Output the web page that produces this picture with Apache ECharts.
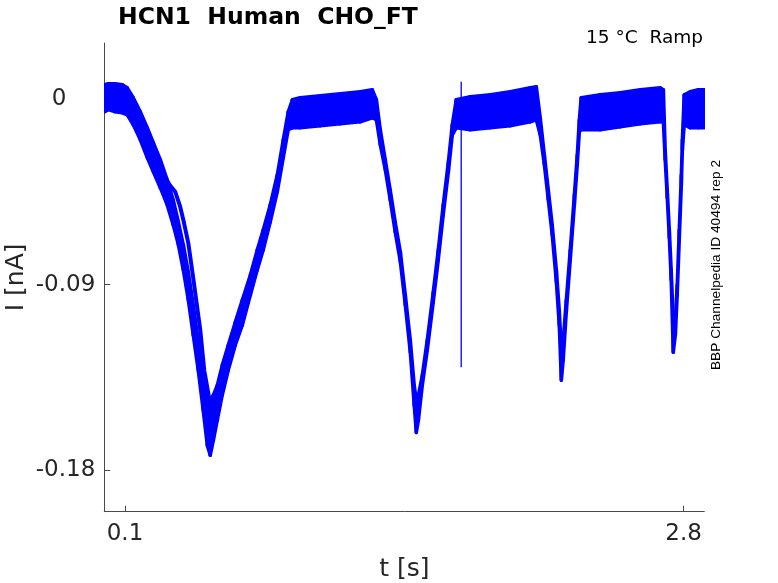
<!DOCTYPE html>
<html>
<head>
<meta charset="utf-8">
<script src="https://cdn.jsdelivr.net/npm/echarts@6/dist/echarts.min.js"></script>
<style>
html,body{margin:0;padding:0;background:#fff;}
#chart{width:778px;height:583px;}
</style>
</head>
<body>
<div id="chart"></div>
<script>
// Time axis (s) and noise-band envelope of the overlaid sweeps (nA)
const timeS = [0.002,0.019,0.053,0.087,0.111,0.140,0.174,0.208,0.237,0.271,0.304,0.333,0.358,0.382,0.406,0.430,0.454,0.478,0.498,0.512,0.527,0.546,0.570,0.599,0.633,0.667,0.706,0.739,0.768,0.802,0.836,0.865,0.889,0.909,0.947,1.044,1.141,1.237,1.295,1.315,1.334,1.358,1.382,1.406,1.431,1.455,1.479,1.498,1.508,1.518,1.537,1.561,1.590,1.614,1.638,1.663,1.682,1.701,1.769,1.866,1.962,2.059,2.088,2.107,2.127,2.146,2.165,2.185,2.199,2.209,2.218,2.233,2.252,2.272,2.286,2.296,2.305,2.397,2.494,2.591,2.687,2.702,2.711,2.721,2.731,2.740,2.750,2.760,2.769,2.779,2.789,2.794,2.803,2.832,2.871,2.900];
const upperNA = [0.0068,0.0073,0.0073,0.0068,0.0053,0.0005,-0.0063,-0.0141,-0.0213,-0.0296,-0.0393,-0.0490,-0.0597,-0.0708,-0.0839,-0.1000,-0.1169,-0.1339,-0.1436,-0.1460,-0.1436,-0.1388,-0.1291,-0.1194,-0.1082,-0.0975,-0.0854,-0.0733,-0.0636,-0.0514,-0.0369,-0.0199,-0.0063,-0.0005,0.0005,0.0015,0.0024,0.0034,0.0044,-0.0005,-0.0150,-0.0296,-0.0442,-0.0597,-0.0742,-0.0951,-0.1169,-0.1388,-0.1460,-0.1436,-0.1339,-0.1169,-0.0936,-0.0733,-0.0514,-0.0306,-0.0126,-0.0005,0.0010,0.0019,0.0034,0.0053,0.0058,-0.0092,-0.0272,-0.0442,-0.0611,-0.0830,-0.1024,-0.1218,-0.1169,-0.0975,-0.0733,-0.0466,-0.0272,-0.0102,0.0005,0.0019,0.0029,0.0044,0.0053,0.0044,-0.0247,-0.0442,-0.0636,-0.0830,-0.1072,-0.1072,-0.0902,-0.0636,-0.0369,-0.0199,0.0019,0.0034,0.0044,0.0044];
const lowerNA = [-0.0063,-0.0053,-0.0063,-0.0068,-0.0078,-0.0126,-0.0199,-0.0286,-0.0354,-0.0432,-0.0514,-0.0611,-0.0708,-0.0830,-0.0975,-0.1145,-0.1315,-0.1509,-0.1679,-0.1727,-0.1655,-0.1558,-0.1436,-0.1315,-0.1194,-0.1097,-0.0951,-0.0830,-0.0733,-0.0597,-0.0451,-0.0286,-0.0150,-0.0141,-0.0141,-0.0131,-0.0121,-0.0112,-0.0092,-0.0102,-0.0223,-0.0344,-0.0490,-0.0645,-0.0791,-0.1000,-0.1228,-0.1485,-0.1616,-0.1558,-0.1388,-0.1218,-0.0985,-0.0781,-0.0563,-0.0354,-0.0175,-0.0141,-0.0150,-0.0141,-0.0131,-0.0112,-0.0102,-0.0175,-0.0320,-0.0490,-0.0660,-0.0888,-0.1097,-0.1363,-0.1266,-0.1034,-0.0781,-0.0514,-0.0320,-0.0160,-0.0150,-0.0150,-0.0136,-0.0121,-0.0112,-0.0112,-0.0296,-0.0480,-0.0674,-0.0878,-0.1228,-0.1145,-0.0951,-0.0684,-0.0417,-0.0247,-0.0126,-0.0141,-0.0141,-0.0141];

// One sweep that separates from the others on the first ramp
const sweepBTime = [0.295,0.319,0.343,0.367,0.382,0.406,0.430,0.454,0.464,0.483,0.507];
const sweepBNA = [-0.0383,-0.0422,-0.0451,-0.0524,-0.0587,-0.0699,-0.0869,-0.1048,-0.1121,-0.1315,-0.1451];

// Capacitive artefact
const spikeTime = [1.725, 1.725];
const spikeNA = [0.0082, -0.1300];

// Ticks
const xTickValues = [0.1, 2.8];
const yTickValues = [-0.18, -0.09, 0];
const xTickLabels = ['0.1', '2.8'];
const yTickLabels = ['-0.18', '-0.09', '0'];

const BLUE = '#0000ff';
const AXIS = '#4a4a4a';
const TXT = '#262626';

const bandData = timeS.map((t, i) => [t, upperNA[i], lowerNA[i]]);

const chart = echarts.init(document.getElementById('chart'), null, {renderer: 'canvas'});
chart.setOption({
  animation: false,
  backgroundColor: '#ffffff',
  title: {
    text: 'HCN1  Human  CHO_FT',
    left: 118, top: 6, padding: 0,
    textStyle: {fontFamily: 'DejaVu Sans', fontWeight: 'bold', fontSize: 23.5, color: '#000'}
  },
  grid: {left: 104.3, right: 73.7, top: 43, bottom: 71.3, containLabel: false, outerBoundsMode: 'none'},
  xAxis: {
    type: 'value', min: 0, max: 2.9,
    name: 't [s]', nameLocation: 'middle', nameGap: 45, nameMoveOverlap: false,
    nameTextStyle: {fontFamily: 'DejaVu Sans', fontSize: 25, color: TXT},
    axisLine: {show: true, onZero: false, lineStyle: {color: AXIS, width: 1}},
    axisTick: {show: true, inside: true, length: 6, customValues: xTickValues, lineStyle: {color: AXIS}},
    axisLabel: {
      customValues: xTickValues, margin: 11,
      fontFamily: 'DejaVu Sans', fontSize: 23, color: TXT,
      formatter: v => xTickLabels[xTickValues.indexOf(v)]
    },
    splitLine: {show: false}
  },
  yAxis: {
    type: 'value', min: -0.2, max: 0.027,
    name: 'I [nA]', nameLocation: 'middle', nameGap: 75, nameMoveOverlap: false,
    nameTextStyle: {fontFamily: 'DejaVu Sans', fontSize: 25, color: TXT},
    axisLine: {show: true, onZero: false, lineStyle: {color: AXIS, width: 1}},
    axisTick: {show: true, inside: true, length: 6, customValues: yTickValues, lineStyle: {color: AXIS}},
    axisLabel: {
      customValues: yTickValues, margin: 9,
      fontFamily: 'DejaVu Sans', fontSize: 23, color: TXT,
      formatter: v => {
        const s = yTickLabels[yTickValues.indexOf(v)];
        return s === '0' ? '{z|0}' : s;
      },
      rich: {z: {fontFamily: 'DejaVu Sans', fontSize: 23, color: TXT, padding: [0, 29, 0, 0]}}
    },
    splitLine: {show: false}
  },
  graphic: [
    {
      type: 'text', right: 75, top: 29,
      style: {text: '15 °C  Ramp', fontFamily: 'DejaVu Sans', fontSize: 18.5, fill: '#000'}
    },
    {
      type: 'text', x: 716, y: 265, rotation: Math.PI / 2,
      style: {text: 'BBP Channelpedia ID 40494 rep 2', fontFamily: 'Liberation Sans', fontSize: 13.7,
        fill: '#000', align: 'center', verticalAlign: 'middle'}
    }
  ],
  series: [
    {
      type: 'custom',
      coordinateSystem: 'cartesian2d',
      data: bandData,
      encode: {x: 0, y: [1, 2]},
      clip: true,
      renderItem: (params, api) => {
        const i = params.dataIndex;
        if (i >= bandData.length - 1) return null;
        const a = bandData[i], b = bandData[i + 1];
        const pts = [
          api.coord([a[0], a[1]]), api.coord([b[0], b[1]]),
          api.coord([b[0], b[2]]), api.coord([a[0], a[2]])
        ];
        return {
          type: 'polygon',
          shape: {points: pts},
          style: {fill: BLUE, stroke: BLUE, lineWidth: 3.5, lineJoin: 'round'}
        };
      }
    },
    {
      type: 'line',
      data: sweepBTime.map((t, i) => [t, sweepBNA[i]]),
      symbol: 'none',
      lineStyle: {color: BLUE, width: 4},
      z: 3
    },
    {
      type: 'line',
      data: spikeTime.map((t, i) => [t, spikeNA[i]]),
      symbol: 'none',
      lineStyle: {color: BLUE, width: 1.3},
      z: 3
    }
  ]
});
</script>
</body>
</html>
